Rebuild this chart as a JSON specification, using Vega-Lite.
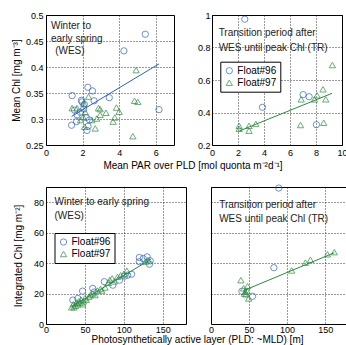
{
  "$schema": "https://vega.github.io/schema/vega-lite/v6.json",
  "padding": {"left": 10, "top": 10, "right": 0, "bottom": 0},
  "config": {
    "font": "Liberation Sans",
    "view": {"stroke": "black", "strokeWidth": 1},
    "axis": {"domain": false, "ticks": false, "grid": true, "gridColor": "black", "gridDash": [1, 2], "gridWidth": 0.8, "gridOpacity": 1, "labelFontSize": 9, "labelColor": "black", "labelFont": "Liberation Sans", "titleFont": "Liberation Sans", "titleFontSize": 10, "titleFontWeight": "normal", "titleColor": "black", "labelFlush": false, "labelOverlap": false, "labelPadding": 3},
    "legend": {"strokeColor": "black", "fillColor": "white", "padding": 4, "labelFontSize": 10, "labelFont": "Liberation Sans", "labelColor": "black", "symbolSize": 40, "symbolStrokeWidth": 1, "rowPadding": 1, "labelOffset": 3, "cornerRadius": 0, "strokeWidth": 1},
    "point": {"filled": false, "size": 40, "strokeWidth": 1},
    "text": {"align": "left", "baseline": "middle", "fontSize": 10, "color": "#222", "font": "Liberation Sans"}
  },
  "datasets": {
    "p1": [
      {"x": 1.43, "y": 0.345, "float": "Float#96"}, {"x": 2.29, "y": 0.361, "float": "Float#96"}, {"x": 2.54, "y": 0.354, "float": "Float#96"}, {"x": 1.94, "y": 0.336, "float": "Float#96"}, {"x": 2.63, "y": 0.335, "float": "Float#96"}, {"x": 1.56, "y": 0.317, "float": "Float#96"}, {"x": 2.06, "y": 0.319, "float": "Float#96"}, {"x": 1.70, "y": 0.308, "float": "Float#96"}, {"x": 1.40, "y": 0.288, "float": "Float#96"}, {"x": 1.67, "y": 0.295, "float": "Float#96"}, {"x": 2.20, "y": 0.303, "float": "Float#96"}, {"x": 2.38, "y": 0.298, "float": "Float#96"}, {"x": 2.24, "y": 0.278, "float": "Float#96"}, {"x": 2.30, "y": 0.286, "float": "Float#96"}, {"x": 1.97, "y": 0.333, "float": "Float#96"}, {"x": 3.46, "y": 0.341, "float": "Float#96"}, {"x": 4.26, "y": 0.431, "float": "Float#96"}, {"x": 5.43, "y": 0.463, "float": "Float#96"}, {"x": 6.18, "y": 0.318, "float": "Float#96"}, {"x": 2.10, "y": 0.328, "float": "Float#96"}, {"x": 1.88, "y": 0.313, "float": "Float#96"},
      {"x": 4.93, "y": 0.394, "float": "Float#97"}, {"x": 2.33, "y": 0.343, "float": "Float#97"}, {"x": 2.06, "y": 0.330, "float": "Float#97"}, {"x": 1.70, "y": 0.321, "float": "Float#97"}, {"x": 2.87, "y": 0.321, "float": "Float#97"}, {"x": 2.96, "y": 0.319, "float": "Float#97"}, {"x": 3.85, "y": 0.322, "float": "Float#97"}, {"x": 4.00, "y": 0.314, "float": "Float#97"}, {"x": 4.84, "y": 0.335, "float": "Float#97"}, {"x": 5.02, "y": 0.333, "float": "Float#97"}, {"x": 2.96, "y": 0.308, "float": "Float#97"}, {"x": 2.78, "y": 0.301, "float": "Float#97"}, {"x": 3.28, "y": 0.312, "float": "Float#97"}, {"x": 3.67, "y": 0.295, "float": "Float#97"}, {"x": 3.76, "y": 0.303, "float": "Float#97"}, {"x": 2.69, "y": 0.282, "float": "Float#97"}, {"x": 4.75, "y": 0.267, "float": "Float#97"}, {"x": 2.03, "y": 0.304, "float": "Float#97"}, {"x": 2.11, "y": 0.285, "float": "Float#97"}, {"x": 1.88, "y": 0.298, "float": "Float#97"}, {"x": 2.15, "y": 0.313, "float": "Float#97"}, {"x": 2.51, "y": 0.298, "float": "Float#97"}, {"x": 1.43, "y": 0.321, "float": "Float#97"}
    ],
    "p2": [
      {"x": 2.52, "y": 0.974, "float": "Float#96"}, {"x": 3.88, "y": 0.432, "float": "Float#96"}, {"x": 7.01, "y": 0.510, "float": "Float#96"}, {"x": 7.47, "y": 0.497, "float": "Float#96"}, {"x": 8.03, "y": 0.325, "float": "Float#96"},
      {"x": 9.26, "y": 0.692, "float": "Float#97"}, {"x": 8.54, "y": 0.543, "float": "Float#97"}, {"x": 8.08, "y": 0.506, "float": "Float#97"}, {"x": 7.88, "y": 0.481, "float": "Float#97"}, {"x": 8.75, "y": 0.481, "float": "Float#97"}, {"x": 6.86, "y": 0.481, "float": "Float#97"}, {"x": 6.81, "y": 0.323, "float": "Float#97"}, {"x": 8.59, "y": 0.337, "float": "Float#97"}, {"x": 3.37, "y": 0.330, "float": "Float#97"}, {"x": 2.85, "y": 0.318, "float": "Float#97"}, {"x": 2.09, "y": 0.318, "float": "Float#97"}, {"x": 2.09, "y": 0.300, "float": "Float#97"}, {"x": 2.85, "y": 0.288, "float": "Float#97"}
    ],
    "p3": [
      {"x": 120, "y": 43.7, "float": "Float#96"}, {"x": 130, "y": 44.1, "float": "Float#96"}, {"x": 134, "y": 41.5, "float": "Float#96"}, {"x": 133, "y": 39.3, "float": "Float#96"}, {"x": 120, "y": 40.9, "float": "Float#96"}, {"x": 125, "y": 43, "float": "Float#96"}, {"x": 110, "y": 32.7, "float": "Float#96"}, {"x": 105, "y": 32.1, "float": "Float#96"}, {"x": 94.5, "y": 28.8, "float": "Float#96"}, {"x": 85.9, "y": 25.5, "float": "Float#96"}, {"x": 75, "y": 27.8, "float": "Float#96"}, {"x": 60, "y": 23.4, "float": "Float#96"}, {"x": 47, "y": 21.6, "float": "Float#96"}, {"x": 34.5, "y": 15.7, "float": "Float#96"}, {"x": 40.9, "y": 16.8, "float": "Float#96"}, {"x": 62, "y": 21, "float": "Float#96"}, {"x": 100.9, "y": 31.4, "float": "Float#96"},
      {"x": 33, "y": 11, "float": "Float#97"}, {"x": 35, "y": 13, "float": "Float#97"}, {"x": 36, "y": 11, "float": "Float#97"}, {"x": 38, "y": 12, "float": "Float#97"}, {"x": 39, "y": 14, "float": "Float#97"}, {"x": 41, "y": 13, "float": "Float#97"}, {"x": 42, "y": 15, "float": "Float#97"}, {"x": 44, "y": 14, "float": "Float#97"}, {"x": 45, "y": 16, "float": "Float#97"}, {"x": 47, "y": 13, "float": "Float#97"}, {"x": 48, "y": 15, "float": "Float#97"}, {"x": 50, "y": 17, "float": "Float#97"}, {"x": 52, "y": 16, "float": "Float#97"}, {"x": 55, "y": 18, "float": "Float#97"}, {"x": 57, "y": 19, "float": "Float#97"}, {"x": 60, "y": 20, "float": "Float#97"}, {"x": 63, "y": 19, "float": "Float#97"}, {"x": 66, "y": 22, "float": "Float#97"}, {"x": 70, "y": 23, "float": "Float#97"}, {"x": 72, "y": 22, "float": "Float#97"}, {"x": 76, "y": 24, "float": "Float#97"}, {"x": 80, "y": 27, "float": "Float#97"}, {"x": 82, "y": 29, "float": "Float#97"}, {"x": 85, "y": 30, "float": "Float#97"}, {"x": 88, "y": 28, "float": "Float#97"}, {"x": 92, "y": 31, "float": "Float#97"}, {"x": 96, "y": 32, "float": "Float#97"}, {"x": 100, "y": 33, "float": "Float#97"}, {"x": 104, "y": 35, "float": "Float#97"}, {"x": 128, "y": 41, "float": "Float#97"}, {"x": 131, "y": 42, "float": "Float#97"}
    ],
    "p4": [
      {"x": 89, "y": 89.3, "float": "Float#96"}, {"x": 82.6, "y": 37, "float": "Float#96"}, {"x": 40.6, "y": 21.5, "float": "Float#96"}, {"x": 54.6, "y": 18.2, "float": "Float#96"},
      {"x": 39.3, "y": 28.8, "float": "Float#97"}, {"x": 48, "y": 24.9, "float": "Float#97"}, {"x": 42.8, "y": 23.5, "float": "Float#97"}, {"x": 45, "y": 21.2, "float": "Float#97"}, {"x": 47, "y": 22, "float": "Float#97"}, {"x": 44, "y": 20, "float": "Float#97"}, {"x": 46, "y": 19.5, "float": "Float#97"}, {"x": 49.5, "y": 16.8, "float": "Float#97"}, {"x": 106, "y": 35.2, "float": "Float#97"}, {"x": 124, "y": 40.3, "float": "Float#97"}, {"x": 130.6, "y": 42.2, "float": "Float#97"}, {"x": 153, "y": 45.8, "float": "Float#97"}, {"x": 162, "y": 47.2, "float": "Float#97"}
    ],
    "l1": [{"x": 1.4, "y": 0.305}, {"x": 6.18, "y": 0.406}],
    "l2": [{"x": 2.09, "y": 0.286}, {"x": 9.23, "y": 0.518}],
    "l3": [{"x": 33, "y": 11.5}, {"x": 135, "y": 42.5}],
    "l4": [{"x": 42.8, "y": 21.9}, {"x": 162, "y": 46.8}],
    "t1": [{"x": 0.27, "y": 0.479, "label": "Winter to"}, {"x": 0.27, "y": 0.454, "label": "early spring"}, {"x": 0.5, "y": 0.431, "label": "(WES)"}],
    "t2": [{"x": 0.51, "y": 0.887, "label": "Transition period after"}, {"x": 0.51, "y": 0.799, "label": "WES until peak Chl (TR)"}],
    "t3": [{"x": 10.9, "y": 80.2, "label": "Winter to early spring"}, {"x": 10.9, "y": 70.7, "label": "(WES)"}],
    "t4": [{"x": 10.7, "y": 77.9, "label": "Transition period after"}, {"x": 10.7, "y": 69.2, "label": "WES until peak Chl (TR)"}]
  },
  "bounds": "full",
  "spacing": 11,
  "resolve": {"scale": {"color": "independent", "shape": "independent"}, "legend": {"color": "independent", "shape": "independent"}},
  "vconcat": [
    {
      "bounds": "flush",
      "spacing": 38,
      "resolve": {"scale": {"color": "independent", "shape": "independent"}, "legend": {"color": "independent", "shape": "independent"}},
      "hconcat": [
        {
          "width": 128, "height": 130,
          "encoding": {
            "x": {"field": "x", "type": "quantitative", "scale": {"domain": [0, 7], "nice": false, "zero": false}, "axis": {"values": [0, 2, 4, 6], "title": "Mean PAR over PLD [mol quonta m⁻²d⁻¹]", "titleX": 146.5, "titleY": 20, "titleBaseline": "middle", "titleAlign": "center"}},
            "y": {"field": "y", "type": "quantitative", "scale": {"domain": [0.25, 0.5], "nice": false, "zero": false}, "axis": {"values": [0.25, 0.3, 0.35, 0.4, 0.45, 0.5], "format": ".2~f", "title": "Mean Chl [mg m⁻³]", "titleX": -30, "titleBaseline": "middle"}}
          },
          "layer": [
            {"data": {"name": "p1"}, "mark": {"type": "point"},
             "encoding": {
               "color": {"field": "float", "type": "nominal", "scale": {"domain": ["Float#96", "Float#97"], "range": ["#2f5fc6", "#2b8a3c"]}, "legend": null},
               "shape": {"field": "float", "type": "nominal", "scale": {"domain": ["Float#96", "Float#97"], "range": ["circle", "triangle-up"]}, "legend": null}
             }},
            {"data": {"name": "l1"}, "mark": {"type": "line", "color": "#2f5fc6", "strokeWidth": 1}, "encoding": {}},
            {"data": {"name": "t1"}, "mark": {"type": "text"}, "encoding": {"text": {"field": "label"}}}
          ]
        },
        {
          "width": 130, "height": 130,
          "encoding": {
            "x": {"field": "x", "type": "quantitative", "scale": {"domain": [0, 10], "nice": false, "zero": false}, "axis": {"values": [0, 2, 4, 6, 8, 10], "title": null}},
            "y": {"field": "y", "type": "quantitative", "scale": {"domain": [0.2, 1], "nice": false, "zero": false}, "axis": {"values": [0.2, 0.4, 0.6, 0.8, 1], "format": ".1~f", "title": null, "labelPadding": 2}}
          },
          "layer": [
            {"data": {"name": "p2"}, "mark": {"type": "point"},
             "encoding": {
               "color": {"field": "float", "type": "nominal", "scale": {"domain": ["Float#96", "Float#97"], "range": ["#2f5fc6", "#2b8a3c"]}, "legend": {"title": null, "orient": "none", "legendX": 8.3, "legendY": 46.7}},
               "shape": {"field": "float", "type": "nominal", "scale": {"domain": ["Float#96", "Float#97"], "range": ["circle", "triangle-up"]}, "legend": {"title": null, "orient": "none", "legendX": 8.3, "legendY": 46.7}}
             }},
            {"data": {"name": "l2"}, "mark": {"type": "line", "color": "#2b8a3c", "strokeWidth": 1}, "encoding": {}},
            {"data": {"name": "t2"}, "mark": {"type": "text"}, "encoding": {"text": {"field": "label"}}}
          ]
        }
      ]
    },
    {
      "bounds": "flush",
      "spacing": 25,
      "resolve": {"scale": {"color": "independent", "shape": "independent"}, "legend": {"color": "independent", "shape": "independent"}},
      "hconcat": [
        {
          "width": 140, "height": 137,
          "encoding": {
            "x": {"field": "x", "type": "quantitative", "scale": {"domain": [0, 180], "nice": false, "zero": false}, "axis": {"values": [0, 50, 100, 150], "labelPadding": 1.5, "title": "Photosynthetically active layer (PLD: ~MLD) [m]", "titleX": 151, "titleY": 15.8, "titleBaseline": "middle", "titleAlign": "center"}},
            "y": {"field": "y", "type": "quantitative", "scale": {"domain": [0, 90], "nice": false, "zero": false}, "axis": {"values": [0, 20, 40, 60, 80], "title": "Integrated Chl [mg m⁻²]", "titleX": -27.5, "titleBaseline": "middle", "labelPadding": 2.5}}
          },
          "layer": [
            {"data": {"name": "p3"}, "mark": {"type": "point"},
             "encoding": {
               "color": {"field": "float", "type": "nominal", "scale": {"domain": ["Float#96", "Float#97"], "range": ["#2f5fc6", "#2b8a3c"]}, "legend": {"title": null, "orient": "none", "legendX": 8.5, "legendY": 46}},
               "shape": {"field": "float", "type": "nominal", "scale": {"domain": ["Float#96", "Float#97"], "range": ["circle", "triangle-up"]}, "legend": {"title": null, "orient": "none", "legendX": 8.5, "legendY": 46}}
             }},
            {"data": {"name": "l3"}, "mark": {"type": "line", "color": "#2b8a3c", "strokeWidth": 1}, "encoding": {}},
            {"data": {"name": "t3"}, "mark": {"type": "text"}, "encoding": {"text": {"field": "label"}}}
          ]
        },
        {
          "width": 137, "height": 137,
          "encoding": {
            "x": {"field": "x", "type": "quantitative", "scale": {"domain": [0, 180], "nice": false, "zero": false}, "axis": {"values": [0, 50, 100, 150], "labelPadding": 1.5, "title": null}},
            "y": {"field": "y", "type": "quantitative", "scale": {"domain": [0, 90], "nice": false, "zero": false}, "axis": {"values": [20, 40, 60, 80], "labels": false, "title": null}}
          },
          "layer": [
            {"data": {"name": "p4"}, "mark": {"type": "point"},
             "encoding": {
               "color": {"field": "float", "type": "nominal", "scale": {"domain": ["Float#96", "Float#97"], "range": ["#2f5fc6", "#2b8a3c"]}, "legend": null},
               "shape": {"field": "float", "type": "nominal", "scale": {"domain": ["Float#96", "Float#97"], "range": ["circle", "triangle-up"]}, "legend": null}
             }},
            {"data": {"name": "l4"}, "mark": {"type": "line", "color": "#2b8a3c", "strokeWidth": 1}, "encoding": {}},
            {"data": {"name": "t4"}, "mark": {"type": "text"}, "encoding": {"text": {"field": "label"}}}
          ]
        }
      ]
    }
  ]
}
